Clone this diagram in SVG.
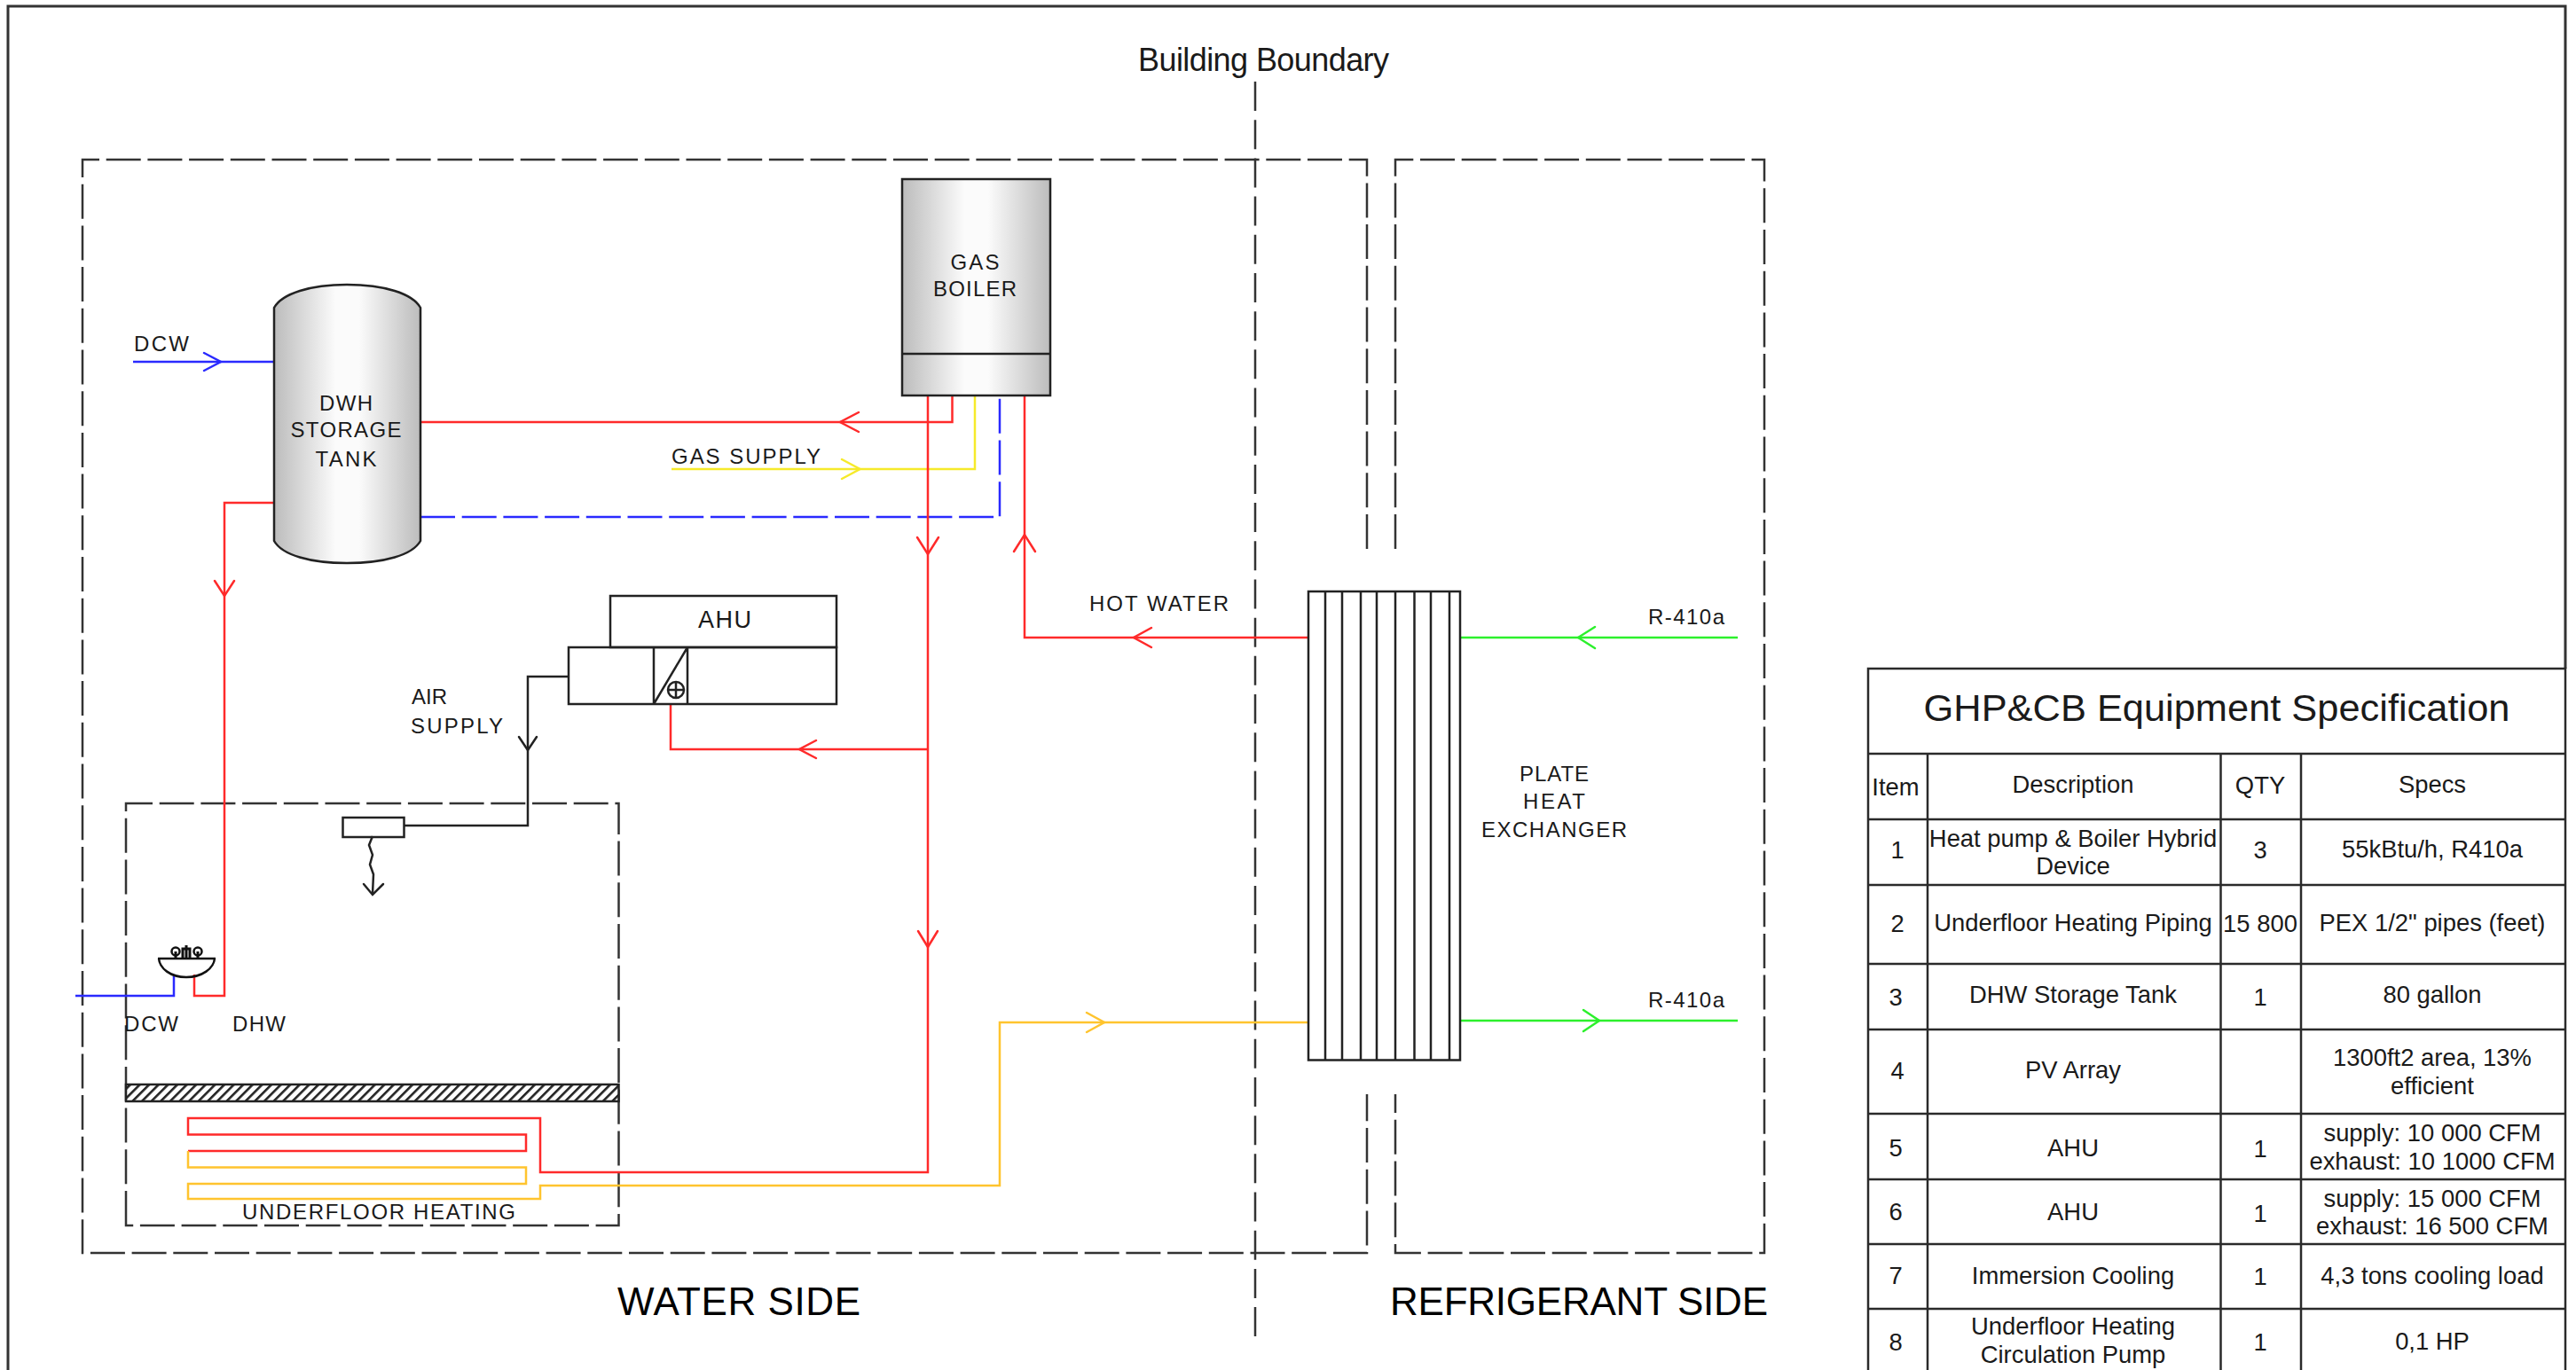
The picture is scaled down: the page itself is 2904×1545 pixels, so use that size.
<svg xmlns="http://www.w3.org/2000/svg" width="2904" height="1545" viewBox="0 0 2904 1545">
<style>
text{font-family:"Liberation Sans",Arial,sans-serif;fill:#1a1a1a}
.l{font-size:24px}
.c{text-anchor:middle}
.big{font-size:44px;fill:#000}
.t{font-size:27.4px;text-anchor:middle}
.k{fill:none;stroke:#222;stroke-width:2.5}
.box{fill:none;stroke:#333;stroke-width:2.5;stroke-dasharray:39 7.7}
.bd{fill:none;stroke:#333;stroke-width:2.5;stroke-dasharray:33 10.19}
.p{fill:none;stroke-width:2.5;stroke-linejoin:miter}
.r{stroke:#ff2a2a}.b{stroke:#2a2aff}.y{stroke:#f6ea2a}.o{stroke:#ffc42e}.g{stroke:#2cf02c}
.hd{stroke-linecap:round}
.grid{fill:none;stroke:#2a2a2a;stroke-width:2.5}
</style>
<defs>
<linearGradient id="metal" x1="0" y1="0" x2="1" y2="0">
<stop offset="0" stop-color="#bcbcbc"/><stop offset=".42" stop-color="#fbfbfb"/><stop offset=".58" stop-color="#fbfbfb"/><stop offset="1" stop-color="#bcbcbc"/>
</linearGradient>
<pattern id="hatch" width="7.500" height="7.500" patternUnits="userSpaceOnUse" patternTransform="rotate(45)">
<rect width="7.500" height="7.500" fill="#fff"/><rect width="2.600" height="7.500" fill="#222"/>
</pattern>
</defs>
<rect width="2904" height="1545" fill="#fff"/>
<path id="frame" d="M9 1545V7H2892V754" fill="none" stroke="#333" stroke-width="3"/>

<g id="boundaries">
<path class="box" d="M1541 619V180H93V1413H1541V1234"/>
<path class="box" d="M1573 619V180H1989V1413H1573V1234"/>
<path class="bd" d="M1415 92V1507"/>
<path class="box" d="M142 1382V906H697.500V1382Z"/>
</g>

<g id="connectors">
<path class="p b" d="M150 408H309"/><path class="p b hd" d="M230 398L249 408L230 418"/>
<path class="p r" d="M474 476H1073.500V446"/><path class="p r hd" d="M968 465L947 476L968 487"/>
<path class="p y" d="M757 529H1099V446"/><path class="p y hd" d="M949 518L969.500 529L949 540"/>
<path class="p b" stroke-dasharray="39 7.700" d="M474 583H1127V446"/>
<path class="p r" d="M1046 446V1322H609V1261H212V1279.500H593V1298H212"/>
<path class="p r hd" d="M1034 606L1046 625L1058 606"/><path class="p r hd" d="M1035 1050L1046 1068L1057 1050"/>
<path class="p r" d="M1155 446V719H1475"/>
<path class="p r hd" d="M1143 622L1155 603L1167 622"/><path class="p r hd" d="M1298 708L1278 719L1298 730"/>
<path class="p r" d="M1046 845H756V794"/><path class="p r hd" d="M920 835L901 845L920 855"/>
<path class="p r" d="M309 567H253V1123H219V1099"/><path class="p r hd" d="M242 655L253 672L264 655"/>
<path class="p b" d="M85 1123H196V1099"/>
<path class="p o" d="M212 1298V1316.600H593V1335H212V1352H609V1337H1127V1153H1475"/><path class="p o hd" d="M1225 1142L1245 1153L1225 1164"/>
<path class="p g" d="M1646 719H1959"/><path class="p g hd" d="M1798 707L1779 719L1798 731"/>
<path class="p g" d="M1646 1151H1959"/><path class="p g hd" d="M1785 1139L1803 1151L1785 1163"/>
<path class="k" d="M641 763H595V931H455"/><path class="k hd" d="M585 831L595 846L605 831"/>
<path class="k" d="M420 943L416 953L420 964L417 975L421 986L420 1008"/><path class="k hd" d="M410 997L420 1009L432 997"/>
</g>

<g id="dwh-tank">
<path d="M309 347C318 331 350 321 391 321C433 321 465 331 474 347V610C465 626 433 635 391 635C350 635 318 626 309 610Z" fill="url(#metal)" stroke="#222" stroke-width="2.500"/>
<text class="l c" x="390" y="463" textLength="60">DWH</text>
<text class="l c" x="390" y="493" textLength="125">STORAGE</text>
<text class="l c" x="390" y="526" textLength="69">TANK</text>
</g>

<g id="gas-boiler">
<rect x="1017" y="202" width="167" height="244" fill="url(#metal)" stroke="#222" stroke-width="2.500"/>
<path class="k" d="M1017 399H1184"/>
<text class="l c" x="1099" y="304" textLength="55">GAS</text>
<text class="l c" x="1099" y="334" textLength="94">BOILER</text>
</g>

<g id="ahu">
<rect class="k" x="688" y="672" width="255" height="58"/>
<rect class="k" x="641" y="730" width="302" height="64"/>
<path class="k" d="M737 730V794M775 730V794M737 794L775 730"/>
<circle class="k" cx="762" cy="778" r="9"/><path class="k" stroke-width="1.500" d="M753 778H771M762 769V787"/>
<text class="c" x="817" y="708" font-size="27" textLength="60">AHU</text>
</g>

<g id="plate-heat-exchanger">
<rect class="k" x="1475" y="667" width="171" height="528.500"/>
<path class="k" d="M1494 667V1195M1513 667V1195M1534 667V1195M1552 667V1195M1573 667V1195M1594.500 667V1195M1613 667V1195M1634 667V1195"/>
<text class="l c" x="1752" y="881" textLength="78">PLATE</text>
<text class="l c" x="1752" y="912" textLength="70">HEAT</text>
<text class="l c" x="1752" y="944" textLength="164">EXCHANGER</text>
</g>

<g id="diffuser"><rect class="k" x="386.500" y="922" width="69" height="22"/></g>

<g id="sink">
<path d="M178 1081H243M179 1081C180 1092 192 1102 210 1102C228 1102 241 1092 242 1081" fill="none" stroke="#111" stroke-width="2.500"/>
<path d="M210 1081V1066M206 1081V1070H214V1081M198 1081V1073M223 1081V1073" fill="none" stroke="#111" stroke-width="3"/>
<circle cx="198" cy="1073" r="4.500" fill="none" stroke="#111" stroke-width="2.500"/>
<circle cx="223" cy="1073" r="4.500" fill="none" stroke="#111" stroke-width="2.500"/>
</g>

<g id="floor-slab"><rect x="142" y="1223" width="555.500" height="19" fill="url(#hatch)" stroke="#222" stroke-width="2.500"/></g>

<g id="labels">
<text x="1283" y="80" font-size="36" textLength="283">Building Boundary</text>
<text class="l" x="151" y="396" textLength="62">DCW</text>
<text class="l" x="757" y="523" textLength="168">GAS SUPPLY</text>
<text class="l" x="1228" y="689" textLength="157">HOT WATER</text>
<text class="l" x="464" y="794" textLength="40">AIR</text>
<text class="l" x="463" y="827" textLength="104">SUPPLY</text>
<text class="l" x="140" y="1163" textLength="61">DCW</text>
<text class="l" x="262" y="1163" textLength="60">DHW</text>
<text class="l" x="273" y="1375" textLength="308">UNDERFLOOR HEATING</text>
<text class="l" x="1858" y="704" textLength="86">R-410a</text>
<text class="l" x="1858" y="1136" textLength="86">R-410a</text>
<text class="big" x="696" y="1483" textLength="274">WATER SIDE</text>
<text class="big" x="1567" y="1483" textLength="426">REFRIGERANT SIDE</text>
</g>

<g id="spec-table">
<rect x="2106" y="754" width="786" height="800" fill="#fff" class="grid"/>
<path class="grid" d="M2106 850H2892M2106 924H2892M2106 998H2892M2106 1087H2892M2106 1161H2892M2106 1256H2892M2106 1330H2892M2106 1403H2892M2106 1476H2892M2173 850V1545M2503.500 850V1545M2594 850V1545"/>
<text x="2499" y="813" font-size="43.400" text-anchor="middle">GHP&amp;CB Equipment Specification</text>
<text class="t" x="2137" y="897">Item</text><text class="t" x="2337" y="894">Description</text><text class="t" x="2548" y="895">QTY</text><text class="t" x="2742" y="894">Specs</text>
<text class="t" x="2139" y="968">1</text><text class="t" x="2337" y="955">Heat pump &amp; Boiler Hybrid</text><text class="t" x="2337" y="986">Device</text><text class="t" x="2548" y="968">3</text><text class="t" x="2742" y="967">55kBtu/h, R410a</text>
<text class="t" x="2139" y="1051">2</text><text class="t" x="2337" y="1050">Underfloor Heating Piping</text><text class="t" x="2548" y="1051">15 800</text><text class="t" x="2742" y="1050">PEX 1/2" pipes (feet)</text>
<text class="t" x="2137" y="1134">3</text><text class="t" x="2337" y="1131">DHW Storage Tank</text><text class="t" x="2548" y="1134">1</text><text class="t" x="2742" y="1131">80 gallon</text>
<text class="t" x="2139" y="1217">4</text><text class="t" x="2337" y="1216">PV Array</text><text class="t" x="2742" y="1202">1300ft2 area, 13%</text><text class="t" x="2742" y="1234">efficient</text>
<text class="t" x="2137" y="1304">5</text><text class="t" x="2337" y="1304">AHU</text><text class="t" x="2548" y="1305">1</text><text class="t" x="2742" y="1287">supply: 10 000 CFM</text><text class="t" x="2742" y="1319">exhaust: 10 1000 CFM</text>
<text class="t" x="2137" y="1376">6</text><text class="t" x="2337" y="1376">AHU</text><text class="t" x="2548" y="1378">1</text><text class="t" x="2742" y="1361">supply: 15 000 CFM</text><text class="t" x="2742" y="1392">exhaust: 16 500 CFM</text>
<text class="t" x="2137" y="1448">7</text><text class="t" x="2337" y="1448">Immersion Cooling</text><text class="t" x="2548" y="1449">1</text><text class="t" x="2742" y="1448">4,3 tons cooling load</text>
<text class="t" x="2137" y="1523">8</text><text class="t" x="2337" y="1505">Underfloor Heating</text><text class="t" x="2337" y="1537">Circulation Pump</text><text class="t" x="2548" y="1523">1</text><text class="t" x="2742" y="1522">0,1 HP</text>
</g>
</svg>
